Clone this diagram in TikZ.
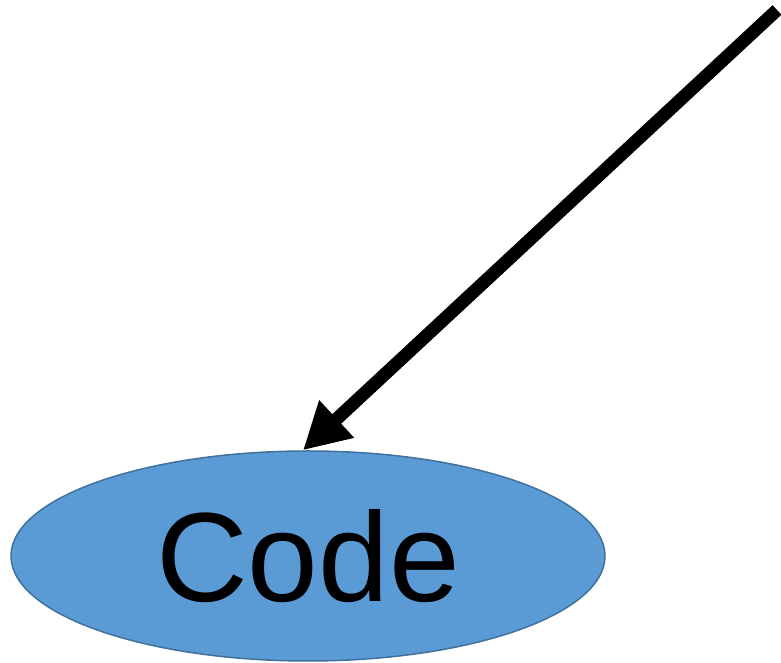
\documentclass[tikz,border=0pt]{standalone}
\usepackage{fontspec}
\setmainfont{Liberation Sans}
\usetikzlibrary{arrows.meta, shapes.geometric}
\definecolor{codefill}{HTML}{5B9BD5}
\definecolor{codeline}{HTML}{41719C}
\tikzset{
  blob/.style={ellipse, fill=codefill, draw=codeline, line width=1.5pt,
    minimum width=594pt, minimum height=210pt, inner sep=0pt,
    font=\fontsize{127}{127}\selectfont},
  bigarrow/.style={line width=13pt, -{Triangle[length=46pt,width=48pt]}}
}
\begin{document}
\begin{tikzpicture}[x=1pt,y=1pt]
  \useasboundingbox (0,0) rectangle (781,663);
  \node [blob] (code) at (308,107) {Code};
  \coordinate (src) at (777,653);
  \draw [bigarrow] (src) -- ([xshift=-5pt]code.north);
\end{tikzpicture}
\end{document}
